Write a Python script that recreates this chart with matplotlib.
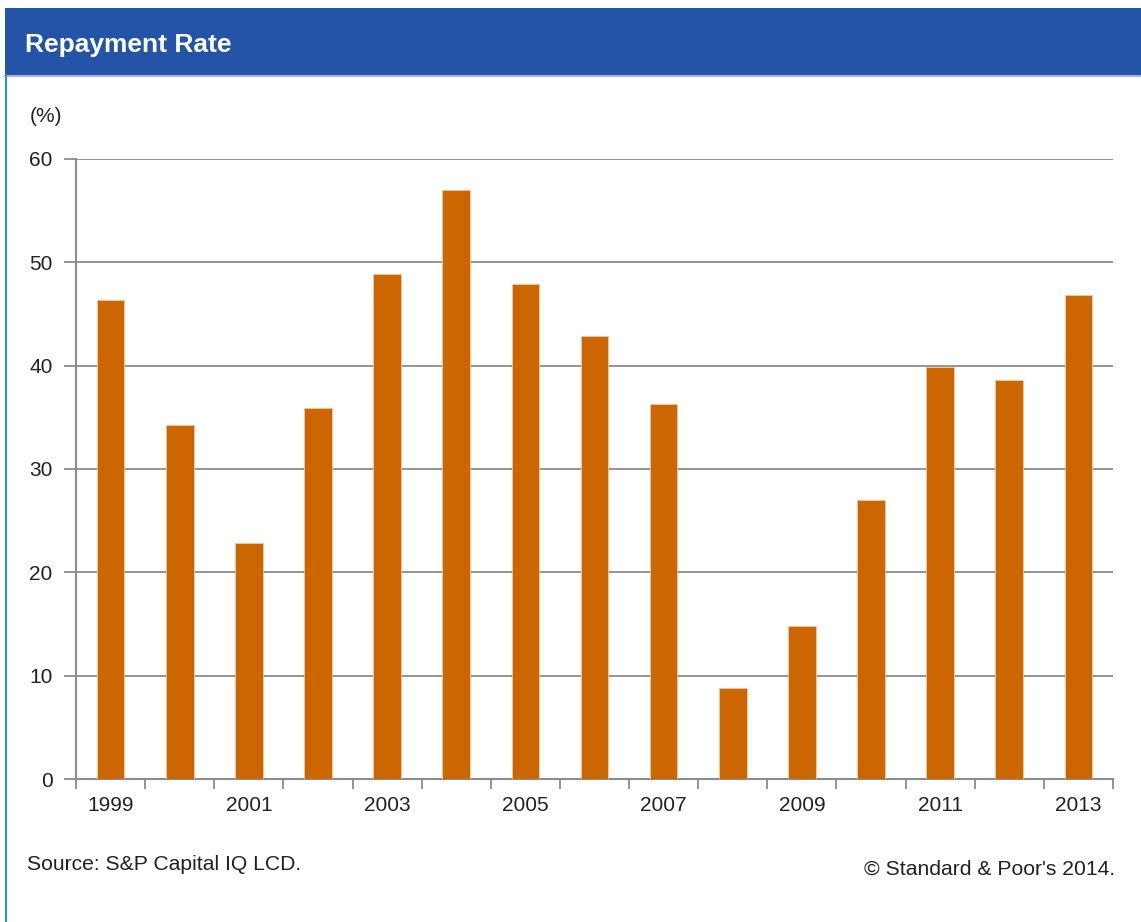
import matplotlib.pyplot as plt
import numpy as np

# repayment rate by year
years = [1999, 2000, 2001, 2002, 2003, 2004, 2005, 2006, 2007, 2008, 2009, 2010, 2011, 2012, 2013]
repayment_rate = [46.4, 34.3, 22.8, 35.9, 48.9, 57.0, 47.9, 42.9, 36.3, 8.8, 14.8, 27.0, 39.9, 38.6, 46.8]
y_ticks = [0, 10, 20, 30, 40, 50, 60]
labeled_years = [1999, 2001, 2003, 2005, 2007, 2009, 2011, 2013]

plt.rcParams['font.family'] = ['Liberation Sans', 'DejaVu Sans']

bar_color = '#CC6600'
grid_color = '#8C8C8C'
text_color = '#222222'

fig = plt.figure(figsize=(11.41, 9.22), dpi=100)

# header band and left border
fig.patches.append(plt.Rectangle((5 / 1141, 1 - 75 / 922), 1, 67 / 922, transform=fig.transFigure,
                                 facecolor='#2354A8', edgecolor='none', zorder=0))
fig.lines.append(plt.Line2D([5 / 1141, 1], [1 - 76 / 922] * 2, transform=fig.transFigure,
                            color='#8FA8D8', lw=1.2))
fig.lines.append(plt.Line2D([6 / 1141] * 2, [0, 1 - 75 / 922], transform=fig.transFigure,
                            color='#2A9A9A', lw=1.5))
fig.text(25 / 1141, 1 - 45 / 922, 'Repayment Rate', color='white', fontsize=19,
         fontweight='bold', va='center', ha='left')

ax = fig.add_axes([76 / 1141, 1 - 779 / 922, (1113 - 76) / 1141, (779 - 159) / 922])
x = np.arange(len(years))
ax.bar(x, repayment_rate, width=0.4, color=bar_color, edgecolor='#F0C8A0', linewidth=0.6, zorder=3)

ax.set_xlim(-0.5, len(years) - 0.5)
ax.set_ylim(0, 60)
ax.set_yticks(y_ticks)
ax.set_yticklabels([str(v) for v in y_ticks], fontsize=15, color=text_color)
ax.yaxis.grid(True, color=grid_color, lw=1.3, zorder=0)

# ticks at category boundaries, labels every other year
ax.set_xticks(np.arange(-0.5, len(years), 1.0))
ax.set_xticklabels([])
ax.set_xticks([years.index(yr) for yr in labeled_years], minor=True)
ax.set_xticklabels([str(yr) for yr in labeled_years], minor=True, fontsize=15, color=text_color)
ax.tick_params(axis='x', which='major', length=7, color=grid_color, width=1.3, direction='out')
ax.tick_params(axis='x', which='minor', length=0, pad=12)
ax.tick_params(axis='y', length=9, color=grid_color, width=1.3, pad=8)

for side in ['top', 'right']:
    ax.spines[side].set_visible(False)
for side in ['left', 'bottom']:
    ax.spines[side].set_color(grid_color)
    ax.spines[side].set_linewidth(1.5)

fig.text(30 / 1141, 1 - 117 / 922, '(%)', fontsize=15, color=text_color, va='center', ha='left')
fig.text(27 / 1141, 1 - 864 / 922, 'Source: S&P Capital IQ LCD.', fontsize=15.2, color=text_color,
         va='center', ha='left')
fig.text(1115 / 1141, 1 - 869 / 922, "\u00a9 Standard & Poor's 2014.", fontsize=15.2, color=text_color,
         va='center', ha='right')

fig.savefig('out.png', dpi=100)
